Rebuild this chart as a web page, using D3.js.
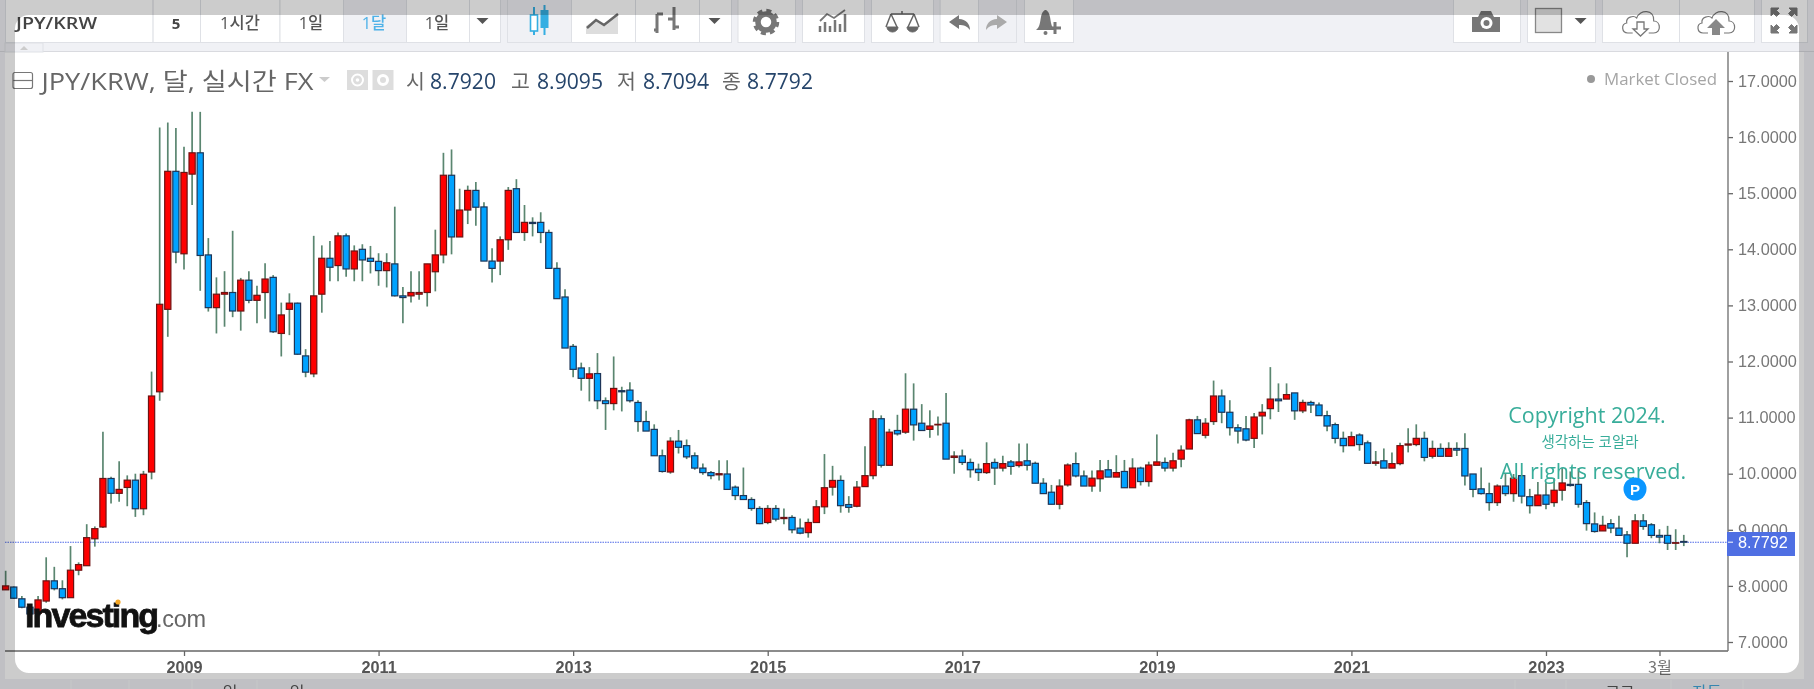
<!DOCTYPE html>
<html lang="ko"><head><meta charset="utf-8"><title>JPY/KRW</title>
<script src="https://cdn.jsdelivr.net/npm/d3@7"></script>
<style>
html,body{margin:0;padding:0;background:#f0f1f5;overflow:hidden}
svg{display:block;font-family:"Open Sans","Noto Sans CJK KR",sans-serif}
</style></head><body><svg id="c" width="1814" height="689"></svg>
<script>
const firstMonth = -22; // months relative to Jan 2009
const opens = [7.93,7.98,7.77,7.62,7.51,7.73,8.09,7.95,7.79,8.28,8.36,8.84,9.05,9.915,9.65,9.755,9.885,9.375,10.03,11.46,12.93,15.39,
13.92,15.34,15.72,13.90,12.96,13.20,13.23,12.90,13.45,13.09,13.23,13.50,12.50,12.93,13.04,12.10,11.78,13.20,13.84,13.71,14.24,13.65,14.00,13.84,
13.785,13.62,13.74,13.17,13.17,13.20,13.23,13.60,13.90,15.32,14.22,14.70,15.05,14.755,13.79,13.79,14.17,15.08,14.30,14.48,14.48,14.30,13.66,13.15,
12.27,11.885,11.70,11.785,11.30,11.25,11.48,11.49,11.27,10.93,10.79,10.32,10.03,10.58,10.50,10.32,10.10,10.02,9.98,9.995,9.76,9.61,9.54,9.38,
9.13,9.38,9.20,9.22,9.03,8.95,9.13,9.41,9.76,9.88,9.45,9.42,9.77,9.965,10.98,10.15,10.77,10.74,11.15,10.90,10.79,10.87,10.90,10.29,
10.315,10.20,10.08,10.02,10.20,10.10,10.21,10.145,10.23,10.185,9.83,9.67,9.455,9.80,10.18,9.96,9.78,9.91,10.07,9.94,10.04,9.75,10.10,9.86,
10.15,10.20,10.10,10.26,10.44,10.96,10.685,10.93,11.385,11.095,10.82,10.80,10.63,11.03,11.16,11.33,11.33,11.44,11.12,11.27,11.225,11.035,10.875,10.63,
10.50,10.69,10.55,10.185,10.23,10.10,10.18,10.51,10.52,10.63,10.31,10.45,10.31,10.45,10.45,9.995,9.73,9.645,9.485,9.78,9.645,9.965,9.59,9.43,
9.62,9.485,9.705,9.81,9.81,9.485,9.105,8.98,9.11,9.03,8.91,8.76,9.16,9.09,8.90,8.90,8.76,8.7920];
const highs = [8.27,7.99,7.82,7.64,7.82,8.51,8.34,8.10,8.71,8.42,9.10,9.06,10.75,9.945,10.22,9.97,10.00,10.05,11.82,16.17,16.26,16.16,
15.83,16.45,16.45,14.20,13.50,13.61,14.33,13.49,13.61,13.35,13.75,13.54,13.05,13.215,13.05,12.22,14.24,14.07,14.15,14.30,14.28,14.07,14.09,14.06,
13.93,13.93,14.76,13.33,13.61,13.61,13.74,14.35,15.72,15.78,15.08,15.135,15.20,14.84,14.02,14.23,15.11,15.25,14.79,14.57,14.66,14.35,13.77,13.29,
12.31,11.98,11.90,12.15,11.36,12.09,11.55,11.63,11.31,11.12,10.88,10.43,10.65,10.78,10.61,10.38,10.18,10.05,10.24,10.24,9.79,10.11,9.58,9.42,
9.44,9.44,9.38,9.26,9.20,9.20,9.53,10.35,10.14,9.97,9.60,9.87,10.49,11.13,11.04,10.80,11.05,11.79,11.61,11.24,11.13,11.02,11.44,10.40,
10.43,10.27,10.18,10.56,10.27,10.32,10.245,10.54,10.54,10.215,9.92,9.80,9.90,10.185,10.38,10.055,10.055,10.245,10.245,10.33,10.245,10.275,10.125,10.215,
10.70,10.29,10.375,10.505,10.98,11.03,10.99,11.66,11.50,11.31,10.88,11.03,11.08,11.24,11.90,11.61,11.61,11.44,11.32,11.30,11.27,11.12,10.91,10.75,
10.75,10.72,10.59,10.405,10.45,10.38,10.55,10.81,10.88,10.75,10.59,10.54,10.56,10.56,10.72,9.995,10.11,9.84,9.81,9.995,9.995,9.965,9.73,9.85,
9.84,9.92,10.10,10.04,10.10,9.53,9.31,9.25,9.19,9.25,8.98,9.28,9.28,9.12,9.01,9.07,9.01,8.9095];
const lows = [7.93,7.77,7.60,7.45,7.48,7.70,7.92,7.76,7.79,8.19,8.36,8.70,9.03,9.47,9.50,9.42,9.23,9.26,9.90,11.30,12.44,13.75,
13.64,14.79,13.26,12.89,12.50,12.62,12.79,12.55,13.04,12.68,12.76,12.51,12.09,12.47,12.12,11.72,11.72,12.87,13.43,13.43,13.51,13.43,13.43,13.57,
13.35,13.32,13.16,12.68,13.05,13.10,12.98,13.25,13.75,13.91,14.22,14.45,14.42,13.79,13.41,13.54,13.99,14.30,14.15,14.23,14.11,13.66,13.12,12.24,
11.72,11.48,11.29,11.15,10.78,11.13,11.11,11.27,10.75,10.76,10.32,10.02,10.00,10.36,10.26,10.07,9.98,9.90,9.88,9.72,9.53,9.54,9.34,9.10,
9.10,9.15,9.10,8.94,8.92,8.86,9.13,9.28,9.61,9.305,9.305,9.40,9.77,9.90,10.11,10.15,10.68,10.71,10.59,10.77,10.64,10.68,10.26,10.00,
10.155,9.93,9.87,9.995,9.80,10.04,9.98,10.11,10.055,9.83,9.645,9.455,9.365,9.77,9.935,9.78,9.68,9.68,9.94,9.94,9.75,9.75,9.79,9.77,
10.15,10.04,10.04,10.115,10.44,10.715,10.63,10.87,10.90,10.68,10.54,10.58,10.46,10.70,10.97,11.10,11.33,10.96,11.08,11.08,11.035,10.755,10.54,10.38,
10.50,10.41,10.185,10.14,10.10,10.10,10.15,10.38,10.49,10.22,10.27,10.31,10.31,10.315,9.79,9.58,9.63,9.34,9.425,9.60,9.50,9.47,9.29,9.43,
9.365,9.41,9.52,9.77,9.395,8.985,8.95,8.98,8.94,8.90,8.51,8.76,9.00,8.85,8.76,8.64,8.64,8.7094];
const closes = [8.00,7.78,7.62,7.50,7.75,8.09,7.95,7.79,8.28,8.38,8.86,9.02,9.915,9.65,9.72,9.885,9.375,9.99,11.385,13.02,15.39,13.95,
15.37,15.72,13.89,12.96,13.20,13.23,12.90,13.45,13.09,13.18,13.47,12.53,12.83,13.04,12.13,11.81,13.17,13.84,13.68,14.24,13.65,13.97,13.81,13.785,
13.62,13.76,13.17,13.14,13.23,13.23,13.74,13.90,15.32,14.22,14.70,15.05,14.75,13.79,13.66,14.17,15.05,14.30,14.48,14.46,14.30,13.66,13.12,12.24,
11.86,11.70,11.78,11.30,11.25,11.52,11.46,11.30,10.93,10.76,10.32,10.04,10.58,10.47,10.30,10.10,10.02,9.965,10.00,9.72,9.61,9.54,9.38,9.11,
9.38,9.19,9.22,9.00,8.94,9.13,9.41,9.75,9.88,9.43,9.40,9.76,9.965,10.98,10.15,10.74,10.71,11.15,10.87,10.77,10.85,10.88,10.26,10.315,
10.20,10.07,10.02,10.18,10.10,10.18,10.13,10.21,10.15,9.83,9.645,9.455,9.78,10.155,9.96,9.78,9.92,10.05,9.94,10.02,9.75,10.10,9.86,10.155,
10.21,10.10,10.23,10.42,10.96,10.715,10.90,11.385,11.095,10.82,10.76,10.60,11.01,11.095,11.33,11.30,11.41,11.12,11.27,11.225,11.035,10.85,10.63,10.50,
10.66,10.52,10.185,10.21,10.10,10.18,10.50,10.53,10.63,10.29,10.45,10.31,10.45,10.42,9.96,9.72,9.645,9.485,9.78,9.645,9.92,9.60,9.43,9.62,
9.455,9.705,9.835,9.79,9.455,9.11,8.97,9.08,9.03,8.90,8.76,9.16,9.06,8.90,8.87,8.76,8.77,8.7792];
const lastPrice = 8.7792;
const priceTicks = [7,8,9,10,11,12,13,14,15,16,17];
const timeTicks = [0,24,48,72,96,120,144,168,182];
const timeLabels = ["2009","2011","2013","2015","2017","2019","2021","2023","3월"];
const legendItems = [["시","8.7920"],["고","8.9095"],["저","8.7094"],["종","8.7792"]];

const svg = d3.select("#c");
const months = opens.map((_, i) => firstMonth + i);
const x = d3.scaleLinear().domain([firstMonth, firstMonth + opens.length - 1]).range([5.65, 1683.8]);
const y = d3.scaleLinear().domain([7, 17]).range([642, 81]);
const sans = '"Liberation Sans",Arial,sans-serif';

// toolbar
const tb = svg.append("g");
tb.append("rect").attr("width",1814).attr("height",689).attr("fill","#f0f1f5");
svg.append("rect").attr("x",5).attr("y",52).attr("width",1799).attr("height",627).attr("fill","#fff");
svg.append("line").attr("x1",0).attr("x2",1814).attr("y1",51.5).attr("y2",51.5).attr("stroke","#d9dadf");
const btn = (a,b,active)=>tb.append("rect").attr("x",a+.5).attr("y",-2).attr("width",b-a).attr("height",44.5)
  .attr("fill",active?"#f0f1f5":"#fff").attr("stroke","#dfe1e6");
[[5,152.6],[152.6,200],[200,279.5],[279.5,343],[343,406,true],[406,469],[469,500],
 [507,571,true],[571,635],[635,699],[699,731],[737.5,795],[802,864],[871,933],[939.6,978],[978,1016,true],[1024,1073],
 [1453,1520],[1527,1595],[1602,1679],[1679,1754],[1761,1807]].forEach(d=>btn(d[0],d[1],d[2]));
const tbt=(t,cx,col,w,fs)=>tb.append("text").attr("x",cx).attr("y",28.5).attr("text-anchor","middle")
  .attr("font-size",fs||16.5).attr("font-weight",w||500).attr("fill",col||"#555").text(t);
tb.append("text").attr("x",16).attr("y",29).attr("font-size",17).attr("font-weight",600).attr("fill","#444")
  .attr("textLength",81).attr("lengthAdjust","spacingAndGlyphs").text("JPY/KRW");
tbt("5",176,"#444",700,15); tbt("1시간",240); tbt("1일",311); tbt("1달",374,"#4fb2e8"); tbt("1일",437);
const tri=(cx,cy)=>tb.append("path").attr("d",`M${cx-6},${cy-3}h12l-6,6z`).attr("fill","#555");
tri(482.5,21);tri(714.5,21);tri(1580.6,21);
// toolbar icons
const ic=tb.append("g");
ic.append("path").attr("d","M534,7V35M544.5,5V35").attr("stroke","#35aee2").attr("stroke-width",2);
ic.append("rect").attr("x",530.5).attr("y",15).attr("width",7).attr("height",16).attr("fill","#fff").attr("stroke","#35aee2").attr("stroke-width",1.6);
ic.append("rect").attr("x",540.5).attr("y",10).attr("width",8).attr("height",18).attr("fill","#35aee2");
ic.append("path").attr("d","M586,34V26L596,19L604,24L618,14V34Z").attr("fill","#ddd");
ic.append("path").attr("d","M587,28L596,20L604,25L618,14").attr("fill","none").attr("stroke","#666").attr("stroke-width",2.5);
ic.append("path").attr("d","M657,33V14M654,30h4M657,14h6M674,7V30M668,19h6M674,27h5").attr("fill","none").attr("stroke","#777").attr("stroke-width",3);
ic.append("circle").attr("cx",766).attr("cy",22).attr("r",8).attr("fill","#fff").attr("stroke","#777").attr("stroke-width",5.5);
ic.append("circle").attr("cx",766).attr("cy",22).attr("r",11.5).attr("fill","none").attr("stroke","#777").attr("stroke-width",3.5).attr("stroke-dasharray","5 4.03");
ic.append("path").attr("d","M820,32V26M825,32V22M830,32V26M835,32V20M840,32V24M845,32V14").attr("stroke","#777").attr("stroke-width",2.5);
ic.append("path").attr("d","M820,21L827,14L834,18L845,10").attr("fill","none").attr("stroke","#777").attr("stroke-width",1.8);
ic.append("path").attr("d","M891,14H914M902,11v3M891,14L886,27M891,14L897,27M914,14L908,27M914,14L919,27").attr("fill","none").attr("stroke","#666").attr("stroke-width",1.5);
ic.append("path").attr("d","M887,27h11a5.5,5 0 0 1-11,0ZM907,27h11a5.5,5 0 0 1-11,0Z").attr("fill","#666").attr("stroke","#666");
ic.append("path").attr("d","M949,22L959,15V19C966,19 970,24 970,30C967,26 964,25 959,25V29Z").attr("fill","#777");
ic.append("path").attr("d","M1007,22L997,15V19C990,19 986,24 986,30C989,26 992,25 997,25V29Z").attr("fill","#aaa");
ic.append("path").attr("d","M1036,30C1040,27 1040,22 1041,17C1042,12 1044,10 1045.5,10C1047,10 1049,12 1050,17C1051,22 1051,27 1055,30Z").attr("fill","#777");
ic.append("circle").attr("cx",1045.5).attr("cy",33).attr("r",2).attr("fill","#777");
ic.append("path").attr("d","M1055,22V34M1049,28H1061").attr("stroke","#777").attr("stroke-width",3);
ic.append("path").attr("d","M1472,17h6l3-6h10l3,6h6v15h-28z").attr("fill","#777");
ic.append("circle").attr("cx",1486.5).attr("cy",23).attr("r",6).attr("fill","#fff");
ic.append("circle").attr("cx",1486.5).attr("cy",23).attr("r",3).attr("fill","#777");
ic.append("rect").attr("x",1535.5).attr("y",8.5).attr("width",26).attr("height",24).attr("fill","#e2e2e2").attr("stroke","#888").attr("stroke-width",1.3);
const cloud=(cx)=>ic.append("path").attr("transform",`translate(${cx},0)`)
  .attr("d","M-8,33H-13C-19,33 -20,24 -14,23C-15,17 -7,15 -4,18C-1,9 14,9 13,21C20,21 21,33 13,33H8").attr("fill","#fff").attr("stroke","#777").attr("stroke-width",1.2);
cloud(1640.7);cloud(1716);
ic.append("path").attr("d","M1637,22h7v7h4l-7.5,7l-7.5,-7h4z").attr("fill","#fff").attr("stroke","#777").attr("stroke-width",1.3);
ic.append("path").attr("d","M1712,35V28h-5l9,-9l9,9h-5v7z").attr("fill","#888");
const arrows=ic.append("g").attr("fill","#777").attr("stroke","#777").attr("stroke-width",1);
[[1771,8,1],[1797,8,-1]].forEach(d=>{
  arrows.append("path").attr("d",`M${d[0]},8h${d[2]*8}l${-d[2]*2.5},2.5l${d[2]*3},3l${-d[2]*3},3l${-d[2]*3},-3l${-d[2]*2.5},2.5z`);
  arrows.append("path").attr("d",`M${d[0]},33h${d[2]*8}l${-d[2]*2.5},-2.5l${d[2]*3},-3l${-d[2]*3},-3l${-d[2]*3},3l${-d[2]*2.5},-2.5z`);
});
// bottom strip
[71,129,192,257,1515,1566,1671,1743].forEach(v=>svg.append("line").attr("x1",v).attr("x2",v).attr("y1",680).attr("y2",689).attr("stroke","#fff").attr("stroke-opacity",.6));
[[230,"일"],[297,"일"],[1620,"로그"],[1707,"자동"]].forEach(d=>svg.append("text").attr("x",d[0]).attr("y",698).attr("font-size",16)
  .attr("text-anchor","middle").attr("fill",d[1]==="자동"?"#43a8dc":"#555").text(d[1]));

// axes
const yAxis = d3.axisRight(y).tickValues(priceTicks).tickSize(5).tickPadding(5).tickFormat(d3.format(".4f"));
const gy = svg.append("g").attr("transform","translate(1728,0)").call(yAxis);
gy.select(".domain").remove();
gy.selectAll("line").attr("stroke","#666").attr("stroke-width",1.3);
gy.selectAll("text").attr("font-family",sans).attr("font-size",16.3).attr("fill","#777");
const xAxis = d3.axisBottom(x).tickValues(timeTicks).tickSize(5).tickPadding(5).tickFormat((d,i)=>timeLabels[i]);
const gx = svg.append("g").attr("transform","translate(0,651)").call(xAxis);
gx.select(".domain").remove();
gx.selectAll("line").attr("stroke","#666").attr("stroke-width",1.3);
gx.selectAll("text").attr("font-family",d=>d===182?'"Noto Sans CJK KR",sans-serif':sans).attr("font-size",16.3)
  .attr("font-weight",d=>d===182?400:700).attr("fill",d=>d===182?"#777":"#555");
svg.append("line").attr("x1",5).attr("x2",1728).attr("y1",651).attr("y2",651).attr("stroke","#666").attr("stroke-width",1.4);
svg.append("line").attr("x1",1728).attr("x2",1728).attr("y1",52).attr("y2",651).attr("stroke","#777").attr("stroke-width",1.4);

// last price line
svg.append("line").attr("x1",5).attr("x2",1728).attr("y1",y(lastPrice)).attr("y2",y(lastPrice)).attr("stroke","#4f6ae8").attr("stroke-dasharray","1.5 1").attr("stroke-width",1.1);

// candles
const candles = svg.append("g").selectAll("g").data(months).join("g");
candles.append("line").attr("x1",d=>x(d)).attr("x2",d=>x(d))
  .attr("y1",(d,i)=>y(highs[i])).attr("y2",(d,i)=>y(lows[i])).attr("stroke","#5a8670").attr("stroke-width",1.7);
candles.append("rect").attr("x",d=>x(d)-3.1).attr("width",6.2)
  .attr("y",(d,i)=>y(Math.max(opens[i],closes[i])))
  .attr("height",(d,i)=>Math.max(.5,Math.abs(y(opens[i])-y(closes[i]))))
  .attr("fill",(d,i)=>closes[i]>=opens[i]?"#ff0000":"#00a2ff")
  .attr("stroke",(d,i)=>closes[i]>=opens[i]?"#6e1212":"#1d3558").attr("stroke-width",1.2);

// watermark text
const teal="#38ad9a";
svg.append("text").attr("x",1587).attr("y",423).attr("text-anchor","middle").attr("font-size",21.5).attr("fill",teal).text("Copyright 2024.");
svg.append("text").attr("x",1590).attr("y",447).attr("text-anchor","middle").attr("font-size",14.5).attr("fill",teal).text("생각하는 코알라");
svg.append("text").attr("x",1593).attr("y",479).attr("text-anchor","middle").attr("font-size",21.5).attr("fill",teal).text("All rights reserved.");

// logo
const lg=svg.append("g");
lg.append("text").attr("x",25).attr("y",627).attr("font-family",sans).attr("font-weight",700).attr("font-size",34).attr("letter-spacing",-1.9)
  .attr("fill","#111").attr("stroke","#111").attr("stroke-width",.8).text("Investing");
lg.append("text").attr("x",156).attr("y",627).attr("font-family",sans).attr("font-size",23.5).attr("letter-spacing",-.3).attr("fill","#666").text(".com");
lg.append("circle").attr("cx",118).attr("cy",602).attr("r",2.6).attr("fill","#f5a623");

// price label and marker
svg.append("rect").attr("x",1727).attr("y",532).attr("width",68).attr("height",24).attr("fill","#4f6fe3");
svg.append("line").attr("x1",1728).attr("x2",1733).attr("y1",y(lastPrice)).attr("y2",y(lastPrice)).attr("stroke","#fff");
svg.append("text").attr("x",1738).attr("y",y(lastPrice)+5.8).attr("font-family",sans).attr("font-size",16.3).attr("fill","#fff").text(d3.format(".4f")(lastPrice));
svg.append("circle").attr("cx",1635).attr("cy",489).attr("r",11.5).attr("fill","#0a96ff");
svg.append("text").attr("x",1635).attr("y",494.5).attr("text-anchor","middle").attr("font-family",sans).attr("font-weight",700).attr("font-size",15).attr("fill","#fff").text("P");

// legend
const lgd=svg.append("g");
lgd.append("rect").attr("x",13).attr("y",72.5).attr("width",19.5).attr("height",16).attr("rx",2).attr("fill","none").attr("stroke","#777").attr("stroke-width",1.2);
lgd.append("line").attr("x1",13).attr("x2",32.5).attr("y1",80.5).attr("y2",80.5).attr("stroke","#777").attr("stroke-width",1.2);
lgd.append("text").attr("x",41.5).attr("y",90).attr("font-size",24).attr("fill","#666").attr("textLength",272).attr("lengthAdjust","spacingAndGlyphs").text("JPY/KRW, 달, 실시간 FX");
lgd.append("path").attr("d","M319,77h11l-5.5,5z").attr("fill","#ccc");
lgd.append("rect").attr("x",347).attr("y",70).attr("width",21).attr("height",20).attr("fill","#ddd");
lgd.append("circle").attr("cx",357.5).attr("cy",80).attr("r",5.5).attr("fill","none").attr("stroke","#fff").attr("stroke-width",2);
lgd.append("circle").attr("cx",357.5).attr("cy",80).attr("r",1.8).attr("fill","#fff");
lgd.append("rect").attr("x",372.5).attr("y",70).attr("width",21).attr("height",20).attr("fill","#ddd");
lgd.append("circle").attr("cx",383).attr("cy",80).attr("r",4.5).attr("fill","#ddd").attr("stroke","#fff").attr("stroke-width",3);
const lx=[[406,430],[511,537],[617,643],[722,747]];
legendItems.forEach((d,i)=>{
  lgd.append("text").attr("x",lx[i][0]).attr("y",89).attr("font-size",20.5).attr("fill","#666").text(d[0]);
  lgd.append("text").attr("x",lx[i][1]).attr("y",89).attr("font-size",21).attr("fill","#26456b").attr("textLength",66).attr("lengthAdjust","spacingAndGlyphs").text(d[1]);
});
lgd.append("circle").attr("cx",1591).attr("cy",79).attr("r",4).attr("fill","#999");
lgd.append("text").attr("x",1604).attr("y",85).attr("font-size",17).attr("fill","#a5a5a5").attr("textLength",113).attr("lengthAdjust","spacingAndGlyphs").text("Market Closed");

// small tab
svg.append("rect").attr("x",5).attr("y",43).attr("width",38).attr("height",9).attr("fill","#f0f1f5").attr("stroke","#dfe1e6");
svg.append("path").attr("d","M20,50l4,-4l4,4z").attr("fill","#ccc");

// window frame overlay
svg.append("path").attr("fill-rule","evenodd").attr("fill","rgba(0,0,0,.2)")
 .attr("d","M0,0H1814V689H0Z M29,15H1785A14,14 0 0 1 1799,29V659A14,14 0 0 1 1785,673H29A14,14 0 0 1 15,659V29A14,14 0 0 1 29,15Z");
svg.style("filter","blur(0.35px)");
</script></body></html>
